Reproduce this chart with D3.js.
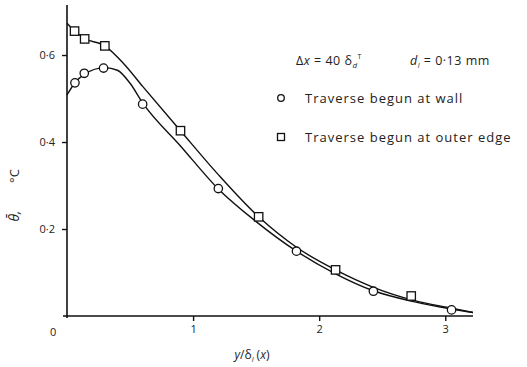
<!DOCTYPE html>
<html><head><meta charset="utf-8">
<script src="https://cdn.jsdelivr.net/npm/d3@7"></script>
<style>body{margin:0;background:#fff}svg{display:block}text{font-family:"Open Sans","DejaVu Sans",sans-serif;fill:#222}</style>
</head><body>
<script>
// Measured points
const wallX = [0.063, 0.137, 0.29, 0.60, 1.20, 1.82, 2.43, 3.05];
const wallY = [0.536, 0.558, 0.570, 0.487, 0.293, 0.149, 0.057, 0.014];
const outerX = [0.06, 0.14, 0.30, 0.90, 1.52, 2.13, 2.73];
const outerY = [0.655, 0.637, 0.621, 0.426, 0.228, 0.106, 0.046];
// Fitted curves
const wallCurveX = [0, 0.06, 0.14, 0.30, 0.40, 0.50, 0.60, 0.90, 1.20, 1.50, 1.82, 2.13, 2.43, 2.75, 3.05, 3.22];
const wallCurveY = [0.508, 0.535, 0.556, 0.571, 0.565, 0.535, 0.490, 0.391, 0.292, 0.217, 0.149, 0.097, 0.058, 0.033, 0.016, 0.008];
const outerCurveX = [0, 0.06, 0.14, 0.30, 0.45, 0.60, 0.90, 1.20, 1.52, 1.82, 2.13, 2.43, 2.75, 3.05, 3.22];
const outerCurveY = [0.673, 0.655, 0.638, 0.621, 0.580, 0.528, 0.426, 0.325, 0.228, 0.158, 0.106, 0.066, 0.036, 0.018, 0.008];
const xTicks = [1, 2, 3];
const xTickLabels = ["1", "2", "3"];
const yTicks = [0.2, 0.4, 0.6];
const yTickLabels = ["0·2", "0·4", "0·6"];

const W = 527, H = 367;
const svg = d3.select("body").append("svg").attr("width", W).attr("height", H);
const x = d3.scaleLinear().domain([0, 3.22]).range([67, 473]);
const y = d3.scaleLinear().domain([0, 0.715]).range([316, 5]);

// axes
const gx = svg.append("g").attr("transform", "translate(0,316)")
  .call(d3.axisBottom(x).tickValues(xTicks).tickFormat((d, i) => xTickLabels[i]).tickSize(5).tickPadding(4));
const gy = svg.append("g").attr("transform", "translate(67,0)")
  .call(d3.axisLeft(y).tickValues(yTicks).tickFormat((d, i) => yTickLabels[i]).tickSize(5).tickPadding(7));
[gx, gy].forEach(g => {
  g.select(".domain").attr("stroke", "#111").attr("stroke-width", 1.6);
  g.selectAll(".tick line").attr("stroke", "#111").attr("stroke-width", 1.4);
  g.selectAll("text").attr("font-size", 11).attr("fill", "#444").style("font-family", "'Open Sans',sans-serif");
});
gx.select(".domain").attr("d", `M${x(0) - 4},0H${x(3.22)}`);
gy.select(".domain").attr("d", `M0,${y(0) + 2}V${y(0.715)}`);
// "0" label at origin
svg.append("text").attr("x", 50).attr("y", 336).attr("font-size", 11).attr("fill", "#999").text("0");

// curves
const line = d3.line().x(d => x(d[0])).y(d => y(d[1])).curve(d3.curveMonotoneX);
svg.append("path").datum(wallCurveX.map((v, i) => [v, wallCurveY[i]]))
  .attr("d", line).attr("fill", "none").attr("stroke", "#111").attr("stroke-width", 1.4);
svg.append("path").datum(outerCurveX.map((v, i) => [v, outerCurveY[i]]))
  .attr("d", line).attr("fill", "none").attr("stroke", "#111").attr("stroke-width", 1.4);

// markers
svg.selectAll("circle.w").data(wallX.map((v, i) => [v, wallY[i]])).enter().append("circle")
  .attr("cx", d => x(d[0])).attr("cy", d => y(d[1])).attr("r", 4.2)
  .attr("fill", "#fff").attr("stroke", "#111").attr("stroke-width", 1.3);
svg.selectAll("rect.o").data(outerX.map((v, i) => [v, outerY[i]])).enter().append("rect")
  .attr("x", d => x(d[0]) - 4.2).attr("y", d => y(d[1]) - 4.2).attr("width", 8.4).attr("height", 8.4)
  .attr("fill", "#fff").attr("stroke", "#111").attr("stroke-width", 1.3);

// legend
const lt = svg.append("text").attr("x", 296).attr("y", 65).attr("font-size", 12.5).style("letter-spacing", "0.5px");
lt.append("tspan").text("Δ");
lt.append("tspan").attr("font-style", "italic").text("x");
lt.append("tspan").text(" = 40 δ");
lt.append("tspan").attr("font-size", 8).attr("dy", 3).attr("font-style", "italic").text("d");
lt.append("tspan").attr("font-size", 7).attr("dy", -9).text("T");
const lt2 = svg.append("text").attr("x", 410).attr("y", 65).attr("font-size", 12.5).style("letter-spacing", "0.5px");
lt2.append("tspan").attr("font-style", "italic").text("d");
lt2.append("tspan").attr("font-size", 7).attr("dy", 3).attr("font-style", "italic").text("l");
lt2.append("tspan").attr("dy", -3).text(" = 0·13 mm");

svg.append("circle").attr("cx", 281).attr("cy", 98).attr("r", 3.3).attr("fill", "#fff").attr("stroke", "#111").attr("stroke-width", 1.3);
svg.append("text").attr("x", 305).attr("y", 103).attr("font-size", 13).style("letter-spacing", "1px").text("Traverse begun at wall");
svg.append("rect").attr("x", 277.5).attr("y", 133.5).attr("width", 7).attr("height", 7).attr("fill", "#fff").attr("stroke", "#111").attr("stroke-width", 1.3);
svg.append("text").attr("x", 305).attr("y", 142).attr("font-size", 13).style("letter-spacing", "1px").text("Traverse begun at outer edge");

// axis titles
svg.append("text").attr("transform", "translate(19,216) rotate(-90)").attr("text-anchor", "middle")
  .attr("font-size", 14).attr("font-style", "italic").text("θ̄,");
svg.append("text").attr("transform", "translate(19,176) rotate(-90)").attr("text-anchor", "middle")
  .attr("font-size", 13).attr("fill", "#444").text("°C");
const xl = svg.append("text").attr("x", 252).attr("y", 359).attr("text-anchor", "middle").attr("font-size", 12).attr("fill", "#555");
xl.append("tspan").attr("font-style", "italic").text("y");
xl.append("tspan").text("/δ");
xl.append("tspan").attr("font-size", 7).attr("dy", 3).attr("font-style", "italic").text("l");
xl.append("tspan").attr("dy", -3).text(" (");
xl.append("tspan").attr("font-style", "italic").text("x");
xl.append("tspan").text(")");
</script>
</body></html>
